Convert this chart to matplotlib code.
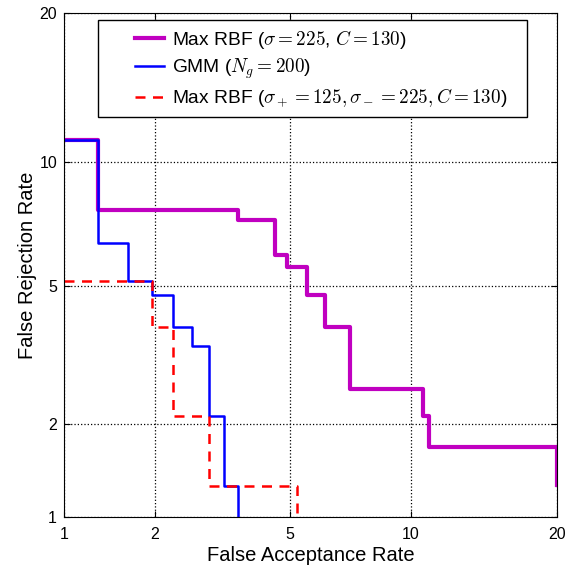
import math
import numpy as np
import matplotlib
matplotlib.use('Agg')
import matplotlib.pyplot as plt
from matplotlib.legend_handler import HandlerLine2D

plt.rcParams['font.family'] = ['Liberation Sans', 'DejaVu Sans']
plt.rcParams['mathtext.fontset'] = 'cm'

# operating points (percent), drawn as steps-post
rbf_far = [1, 1.31, 3.58, 4.54, 4.90, 5.54, 6.17, 7.15, 10.65, 10.99, 20]
rbf_frr = [11.2, 7.75, 7.33, 6.00, 5.59, 4.72, 3.86, 2.56, 2.12, 1.70, 1.28]

gmm_far = [1, 1.31, 1.64, 1.96, 2.29, 2.62, 2.94, 3.26, 3.58]
gmm_frr = [11.2, 6.44, 5.14, 4.72, 3.86, 3.42, 2.12, 1.27, 0.9]

rbf2_far = [1, 1.96, 2.29, 2.94, 5.21]
rbf2_frr = [5.14, 3.86, 2.12, 1.27, 0.9]

ticks = [1, 2, 5, 10, 20]
tick_labels = ['1', '2', '5', '10', '20']


# normal deviate scale (DET plot)
A = [-3.969683028665376e+01, 2.209460984245205e+02, -2.759285104469687e+02,
     1.383577518672690e+02, -3.066479806614716e+01, 2.506628277459239e+00]
B = [-5.447609879822406e+01, 1.615858368580409e+02, -1.556989798598866e+02,
     6.680131188771972e+01, -1.328068155288572e+01]
C = [-7.784894002430293e-03, -3.223964580411365e-01, -2.400758277161838e+00,
     -2.549732539343734e+00, 4.374664141464968e+00, 2.938163982698783e+00]
D = [7.784695709041462e-03, 3.224671290700398e-01, 2.445134137142996e+00,
     3.754408661907416e+00]


def ppf(p):
    p = np.clip(np.asarray(p, dtype=float), 1e-9, 1 - 1e-9)
    out = np.empty_like(p)
    lo = p < 0.02425
    hi = p > 1 - 0.02425
    mid = ~(lo | hi)
    q = np.sqrt(-2 * np.log(p[lo]))
    out[lo] = (((((C[0]*q+C[1])*q+C[2])*q+C[3])*q+C[4])*q+C[5]) / \
        ((((D[0]*q+D[1])*q+D[2])*q+D[3])*q+1)
    q = np.sqrt(-2 * np.log(1 - p[hi]))
    out[hi] = -(((((C[0]*q+C[1])*q+C[2])*q+C[3])*q+C[4])*q+C[5]) / \
        ((((D[0]*q+D[1])*q+D[2])*q+D[3])*q+1)
    q = p[mid] - 0.5
    r = q * q
    out[mid] = (((((A[0]*r+A[1])*r+A[2])*r+A[3])*r+A[4])*r+A[5])*q / \
        (((((B[0]*r+B[1])*r+B[2])*r+B[3])*r+B[4])*r+1)
    return out


_erf = np.vectorize(math.erf)


def fwd(x):
    return ppf(np.asarray(x, dtype=float) / 100.0)


def inv(z):
    z = np.asarray(z, dtype=float)
    return 100.0 * 0.5 * (1 + _erf(z / math.sqrt(2)))


# legend line only on the right part of the handle box (matlab look)
class RightLine(HandlerLine2D):
    def get_xdata(self, legend, xdescent, ydescent, width, height, fontsize):
        x1 = -xdescent + width
        x0 = x1 - 1.5 * fontsize
        return [x0, x1], [0.5 * (x0 + x1)]


fig = plt.figure(figsize=(5.65, 5.68), dpi=100)
ax = fig.add_axes([64/565, 51/568, 493/565, 504/568])
ax.set_xscale('function', functions=(fwd, inv))
ax.set_yscale('function', functions=(fwd, inv))

ax.plot(rbf_far, rbf_frr, drawstyle='steps-post', color='#c000c0', lw=3,
        label=r'Max RBF ($\sigma = 225$, $C = 130$)')
ax.plot(gmm_far, gmm_frr, drawstyle='steps-post', color='#0000ff', lw=1.8,
        label=r'GMM ($N_g = 200$)')
ax.plot(rbf2_far, rbf2_frr, drawstyle='steps-post', color='#ff0000', lw=1.8,
        ls=(0, (4, 3)),
        label=r'Max RBF ($\sigma_+ = 125, \sigma_- = 225, C = 130$)')

ax.set_xlim(1, 20)
ax.set_ylim(1, 20)
ax.set_xticks(ticks)
ax.set_xticklabels(tick_labels)
ax.set_yticks(ticks)
ax.set_yticklabels(tick_labels)
ax.minorticks_off()
ax.tick_params(direction='in', top=True, right=True, labelsize=11.5, length=4)
ax.tick_params(axis='x', pad=7)
ax.tick_params(axis='y', pad=5)
ax.grid(True, color='black', ls=':', lw=0.9)

ax.set_xlabel('False Acceptance Rate', fontsize=14.5, labelpad=3)
ax.set_ylabel('False Rejection Rate', fontsize=14.5, labelpad=2)

top = 497 / 504
leg = ax.legend(loc='upper left', bbox_to_anchor=(34/493, 0.5, 429/493, top - 0.5),
                mode='expand', fontsize=13.8, fancybox=False, framealpha=1,
                edgecolor='black', handlelength=3.0, handletextpad=0.42,
                borderpad=0.42, labelspacing=0.3, borderaxespad=0,
                handler_map={plt.Line2D: RightLine()})
leg.get_frame().set_linewidth(1)

fig.savefig('out.png', dpi=100)
